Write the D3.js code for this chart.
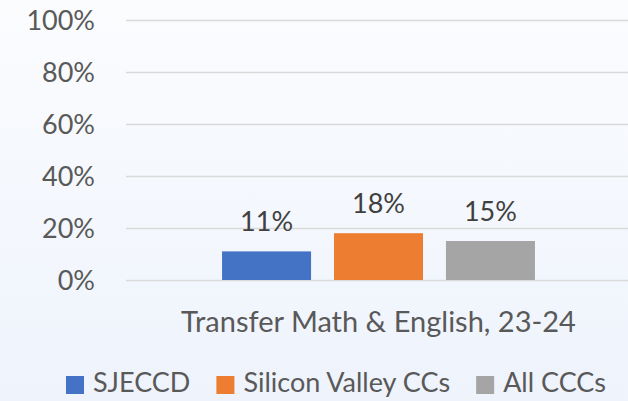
<!DOCTYPE html>
<html>
<head>
<meta charset="utf-8">
<script src="https://cdn.jsdelivr.net/npm/d3@7"></script>
<style>
  html, body { margin: 0; padding: 0; }
  body { width: 628px; height: 401px; overflow: hidden; }
  text { font-family: Lato, "Open Sans", sans-serif; }
</style>
</head>
<body>
<div id="chart"></div>
<script>
// chart data
var categories = ["Transfer Math & English, 23-24"];
var seriesNames = ["SJECCD", "Silicon Valley CCs", "All CCCs"];
var seriesValues = [0.11, 0.18, 0.15];
var seriesColors = ["#4472c4", "#ed7d31", "#a5a5a5"];
var yTicks = [0, 0.2, 0.4, 0.6, 0.8, 1.0];

var width = 628, height = 401;
var margin = {top: 20, right: -3, bottom: 121, left: 126};

var svg = d3.select("#chart")
    .append("svg")
    .attr("width", width)
    .attr("height", height);

// light background gradient
var grad = svg.append("defs").append("linearGradient")
    .attr("id", "bg")
    .attr("x1", 0).attr("y1", 0).attr("x2", 0).attr("y2", 1);
grad.append("stop").attr("offset", "0%").attr("stop-color", "#fbfcfe");
grad.append("stop").attr("offset", "100%").attr("stop-color", "#eef3fc");
svg.append("rect")
    .attr("width", width).attr("height", height)
    .attr("fill", "url(#bg)");

var x0 = d3.scaleBand()
    .domain(categories)
    .range([margin.left, width - margin.right])
    .paddingInner(0)
    .paddingOuter(0.307);

var x1 = d3.scaleBand()
    .domain(seriesNames)
    .range([0, x0.bandwidth()])
    .paddingInner(0.205);

var y = d3.scaleLinear()
    .domain([0, 1])
    .range([height - margin.bottom, margin.top]);

// y axis with gridlines
var yAxis = svg.append("g")
    .attr("transform", "translate(" + margin.left + ",0)")
    .call(d3.axisLeft(y)
        .tickValues(yTicks)
        .tickFormat(d3.format(".0%"))
        .tickSize(-(width - margin.right - margin.left))
        .tickPadding(31));
yAxis.select(".domain").remove();
yAxis.selectAll(".tick line")
    .attr("stroke", "#d9d9d9")
    .attr("stroke-width", 1.5);
yAxis.selectAll(".tick text")
    .attr("fill", "#595959")
    .attr("font-size", "27px")
    .attr("dy", "0.36em");

// bars
var group = svg.append("g")
    .attr("transform", "translate(" + x0(categories[0]) + ",0)");

group.selectAll("rect")
    .data(seriesValues)
    .enter().append("rect")
    .attr("x", function(d, i) { return x1(seriesNames[i]); })
    .attr("y", function(d) { return y(d); })
    .attr("width", x1.bandwidth())
    .attr("height", function(d) { return y(0) - y(d); })
    .attr("fill", function(d, i) { return seriesColors[i]; });

// value labels
group.selectAll(".val")
    .data(seriesValues)
    .enter().append("text")
    .attr("class", "val")
    .attr("x", function(d, i) { return x1(seriesNames[i]) + x1.bandwidth() / 2; })
    .attr("y", function(d) { return y(d) - 20; })
    .attr("text-anchor", "middle")
    .attr("fill", "#404040")
    .attr("font-size", "27px")
    .text(function(d) { return d3.format(".0%")(d); });

// category label
svg.append("text")
    .attr("x", x0(categories[0]) + x0.bandwidth() / 2)
    .attr("y", 332)
    .attr("text-anchor", "middle")
    .attr("fill", "#595959")
    .attr("font-size", "29px")
    .text(categories[0]);

// legend
var legend = svg.append("g");
var lx = 66;
seriesNames.forEach(function(name, i) {
    legend.append("rect")
        .attr("x", lx).attr("y", 376)
        .attr("width", 18).attr("height", 18)
        .attr("fill", seriesColors[i]);
    var t = legend.append("text")
        .attr("x", lx + 27).attr("y", 392)
        .attr("fill", "#595959")
        .attr("font-size", "27px")
        .text(name);
    lx += 27 + t.node().getComputedTextLength() + 26;
});
</script>
</body>
</html>
